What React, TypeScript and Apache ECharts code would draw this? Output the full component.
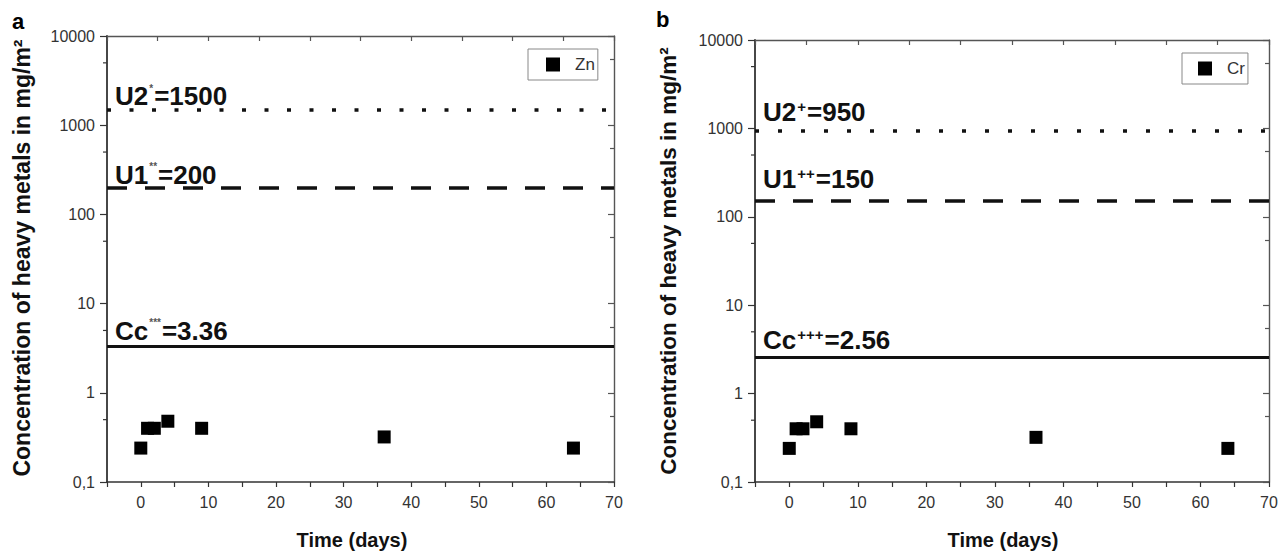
import React, { useEffect, useRef } from "react";
import * as echarts from "echarts";

// ---- data ----
const days = [0, 1, 2, 4, 9, 36, 64];
const znValues = [0.24, 0.4, 0.4, 0.48, 0.4, 0.32, 0.24];
const crValues = [0.24, 0.4, 0.4, 0.48, 0.4, 0.32, 0.24];
const znLimits = { u2: 1500, u1: 200, cc: 3.36 };
const crLimits = { u2: 950, u1: 150, cc: 2.56 };
const znSup = { u2: "*", u1: "**", cc: "***" };
const crSup = { u2: "+", u1: "++", cc: "+++" };
const yMinorTicks = [5000, 500, 50, 5, 0.5];
const xMin = -5;
const xMax = 70;
const yMin = 0.1;
const yMax = 10000;

const FONT = "'Liberation Sans', Arial, sans-serif";

function yLabel(v: number) {
  if (v < 1) return String(v).replace(".", ",");
  return String(v);
}

function makeAxes(grid: number) {
  const xBottom = {
    type: "value",
    gridIndex: grid,
    position: "bottom",
    min: xMin,
    max: xMax,
    interval: 5,
    axisLine: { show: true, onZero: false, lineStyle: { color: "#333", width: 1.6 } },
    axisTick: { show: true, inside: false, length: 5, lineStyle: { color: "#333", width: 1.2 } },
    axisLabel: {
      show: true,
      margin: 12,
      fontSize: 16,
      color: "#333",
      fontFamily: FONT,
      formatter: (v: number) => (v % 10 === 0 ? String(v) : ""),
    },
    splitLine: { show: false },
  };
  const xTop = {
    type: "value",
    gridIndex: grid,
    position: "top",
    min: xMin,
    max: xMax,
    interval: 7.5,
    axisLine: { show: true, onZero: false, lineStyle: { color: "#555", width: 1.4 } },
    axisTick: { show: true, inside: true, length: 5, lineStyle: { color: "#555", width: 1.2 } },
    axisLabel: { show: false },
    splitLine: { show: false },
  };
  const yLeft = {
    type: "log",
    logBase: 10,
    gridIndex: grid,
    position: "left",
    min: yMin,
    max: yMax,
    axisLine: { show: true, onZero: false, lineStyle: { color: "#333", width: 1.8 } },
    axisTick: { show: true, inside: false, length: 7, lineStyle: { color: "#333", width: 1.2 } },
    axisLabel: {
      show: true,
      margin: 12,
      fontSize: 16,
      color: "#333",
      fontFamily: FONT,
      formatter: yLabel,
    },
    splitLine: { show: false },
  };
  const yRight = {
    type: "log",
    logBase: 10,
    gridIndex: grid,
    position: "right",
    min: yMin,
    max: yMax,
    axisLine: { show: true, onZero: false, lineStyle: { color: "#555", width: 1.4 } },
    axisTick: { show: true, inside: true, length: 6, lineStyle: { color: "#555", width: 1.2 } },
    minorTick: { show: true, splitNumber: 2, length: 4, lineStyle: { color: "#555", width: 1.2 } },
    axisLabel: { show: false },
    splitLine: { show: false },
  };
  return { xBottom, xTop, yLeft, yRight };
}

function limitLabel(name: string, sup: string, val: number) {
  return `{b|${name}}{s|${sup}}{b|=${val}}`;
}

function makeRich(supSize: number, supColor: string) {
  return {
    b: { fontSize: 26, fontWeight: "bold", color: "#111", fontFamily: FONT },
    s: {
      fontSize: supSize,
      fontWeight: "bold",
      color: supColor,
      fontFamily: FONT,
      verticalAlign: "top",
      padding: [0, 1, 10, 1],
    },
  };
}

function makeSeries(
  name: string,
  values: number[],
  limits: { u2: number; u1: number; cc: number },
  sups: { u2: string; u1: string; cc: string },
  axisBase: number,
  supSize: number,
  supColor: string,
  dotGap: number,
  labelDist: number[]
) {
  const rich = makeRich(supSize, supColor);
  const lbl = (n: string, s: string, v: number, d: number) => ({
    show: true,
    position: "insideStartTop",
    distance: [8, d],
    formatter: limitLabel(n, s, v),
    rich,
  });
  return [
    {
      name,
      type: "scatter",
      xAxisIndex: axisBase,
      yAxisIndex: axisBase,
      symbol: "rect",
      symbolSize: 13,
      itemStyle: { color: "#000", opacity: 1 },
      data: days.map((d, i) => [d, values[i]]),
      markLine: {
        silent: true,
        symbol: "none",
        animation: false,
        data: [
          {
            yAxis: limits.u2,
            lineStyle: { color: "#111", width: 3.5, type: [4, dotGap], cap: "butt" },
            label: lbl("U2", sups.u2, limits.u2, labelDist[0]),
          },
          {
            yAxis: limits.u1,
            lineStyle: { color: "#111", width: 3.5, type: [20, 18], cap: "butt" },
            label: lbl("U1", sups.u1, limits.u1, labelDist[1]),
          },
          {
            yAxis: limits.cc,
            lineStyle: { color: "#111", width: 3, type: "solid" },
            label: lbl("Cc", sups.cc, limits.cc, labelDist[2]),
          },
        ],
      },
    },
    {
      type: "custom",
      xAxisIndex: axisBase,
      yAxisIndex: axisBase,
      silent: true,
      clip: false,
      data: yMinorTicks.map((v) => [xMin, v]),
      renderItem: (params: any, api: any) => {
        const p = api.coord([api.value(0), api.value(1)]);
        return {
          type: "line",
          shape: { x1: p[0] - 4, y1: p[1], x2: p[0], y2: p[1] },
          style: { stroke: "#333", lineWidth: 1.2 },
        };
      },
    },
  ];
}

const yTitle = "Concentration of heavy metals in mg/m²";

export default function App() {
  const ref = useRef<HTMLDivElement>(null);
  useEffect(() => {
    if (!ref.current) return;
    const chart = echarts.init(ref.current, undefined, { renderer: "svg" });
    const a = makeAxes(0);
    const b = makeAxes(1);
    const option: any = {
      animation: false,
      backgroundColor: "#fff",
      textStyle: { fontFamily: FONT },
      grid: [
        { left: 107, top: 36, width: 507, height: 446 },
        { left: 755, top: 40, width: 514, height: 442 },
      ],
      xAxis: [a.xBottom, a.xTop, b.xBottom, b.xTop],
      yAxis: [a.yLeft, a.yRight, b.yLeft, b.yRight],
      legend: [
        {
          data: [{ name: "Zn", icon: "rect" }],
          left: 528,
          top: 49,
          orient: "vertical",
          padding: [7, 3, 7, 18],
          itemWidth: 14,
          itemHeight: 14,
          borderColor: "#888",
          borderWidth: 1,
          selectedMode: false,
          textStyle: { fontSize: 17, color: "#333", fontFamily: FONT, padding: [0, 0, 0, 10] },
        },
        {
          data: [{ name: "Cr", icon: "rect" }],
          left: 1182,
          top: 53,
          orient: "vertical",
          padding: [7, 3, 7, 16],
          itemWidth: 14,
          itemHeight: 14,
          borderColor: "#888",
          borderWidth: 1,
          selectedMode: false,
          textStyle: { fontSize: 17, color: "#333", fontFamily: FONT, padding: [0, 0, 0, 10] },
        },
      ],
      series: [
        ...makeSeries("Zn", znValues, znLimits, znSup, 0, 10, "#555", 18.5, [0, 0, 2]),
        ...makeSeries("Cr", crValues, crLimits, crSup, 2, 15, "#111", 19, [5, 9, 5]),
      ],
      graphic: [
        { type: "text", left: 12, top: 10, style: { text: "a", font: `bold 22px ${FONT}`, fill: "#000" } },
        { type: "text", left: 656, top: 8, style: { text: "b", font: `bold 22px ${FONT}`, fill: "#000" } },
        {
          type: "text",
          x: 22,
          y: 258,
          rotation: Math.PI / 2,
          style: {
            text: yTitle,
            font: `bold 23px ${FONT}`,
            fill: "#111",
            align: "center",
            verticalAlign: "middle",
          },
        },
        {
          type: "text",
          x: 668,
          y: 261,
          rotation: Math.PI / 2,
          style: {
            text: yTitle,
            font: `bold 22.5px ${FONT}`,
            fill: "#111",
            align: "center",
            verticalAlign: "middle",
          },
        },
        {
          type: "text",
          x: 352,
          y: 540,
          style: { text: "Time (days)", font: `bold 20px ${FONT}`, fill: "#111", align: "center", verticalAlign: "middle" },
        },
        {
          type: "text",
          x: 1003,
          y: 540,
          style: { text: "Time (days)", font: `bold 20px ${FONT}`, fill: "#111", align: "center", verticalAlign: "middle" },
        },
      ],
    };
    chart.setOption(option);
    return () => chart.dispose();
  }, []);
  return (
    <div
      ref={ref}
      style={{ position: "fixed", left: 0, top: 0, width: 1286, height: 554, background: "#fff" }}
    />
  );
}
